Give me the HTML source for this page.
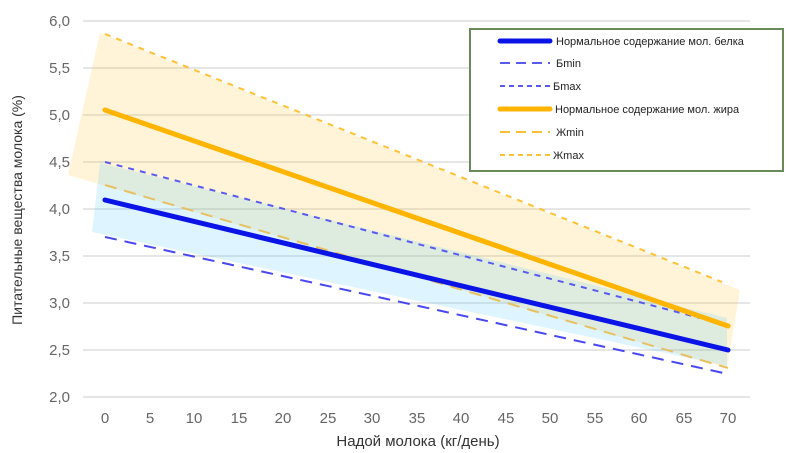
<!DOCTYPE html>
<html><head><meta charset="utf-8"><style>body{margin:0;background:#fff}svg{display:block}</style></head><body>
<svg width="790" height="453" xmlns="http://www.w3.org/2000/svg" font-family="Liberation Sans, sans-serif">
<g stroke="#ddd" stroke-width="1.5">
<line x1="83" y1="21" x2="750" y2="21"/><line x1="83" y1="68" x2="750" y2="68"/><line x1="83" y1="115" x2="750" y2="115"/><line x1="83" y1="162" x2="750" y2="162"/><line x1="83" y1="209" x2="750" y2="209"/><line x1="83" y1="256" x2="750" y2="256"/><line x1="83" y1="303" x2="750" y2="303"/><line x1="83" y1="350" x2="750" y2="350"/><line x1="83" y1="397" x2="750" y2="397"/>
</g>
<g fill="#666" font-size="15" text-anchor="end">
<text x="70" y="26">6,0</text><text x="70" y="73">5,5</text><text x="70" y="120">5,0</text><text x="70" y="167">4,5</text><text x="70" y="214">4,0</text><text x="70" y="261">3,5</text><text x="70" y="308">3,0</text><text x="70" y="355">2,5</text><text x="70" y="402">2,0</text>
</g>
<g fill="#666" font-size="15" text-anchor="middle">
<text x="105" y="423">0</text><text x="150" y="423">5</text><text x="194" y="423">10</text><text x="239" y="423">15</text><text x="283" y="423">20</text><text x="328" y="423">25</text><text x="372" y="423">30</text><text x="417" y="423">35</text><text x="461" y="423">40</text><text x="506" y="423">45</text><text x="550" y="423">50</text><text x="595" y="423">55</text><text x="639" y="423">60</text><text x="684" y="423">65</text><text x="728" y="423">70</text>
</g>
<text x="418" y="446" font-size="15" fill="#333" text-anchor="middle">Надой молока (кг/день)</text>
<text transform="translate(22,210) rotate(-90)" font-size="14" fill="#333" text-anchor="middle">Питательные вещества молока (%)</text>
<polygon points="68,175 100,33 740,290 727,368" fill="rgb(255,200,60)" fill-opacity="0.2"/>
<polygon points="92,232 100,163 727,318 727,366" fill="rgb(90,200,255)" fill-opacity="0.2"/>
<g fill="none">
<line x1="105" y1="34" x2="722" y2="282" stroke="#ffc234" stroke-width="2" stroke-dasharray="6,6"/>
<line x1="105" y1="185" x2="728" y2="368" stroke="#e8c060" stroke-width="2" stroke-dasharray="12,8"/>
<line x1="105" y1="162" x2="700" y2="318" stroke="#5a5af0" stroke-width="2" stroke-dasharray="6,6"/>
<line x1="105" y1="237" x2="728" y2="374" stroke="#4848f0" stroke-width="2" stroke-dasharray="12,8"/>
<line x1="105" y1="110" x2="728" y2="326" stroke="#ffb400" stroke-width="5" stroke-linecap="round"/>
<line x1="105" y1="200" x2="728" y2="350" stroke="#0a14e6" stroke-width="5" stroke-linecap="round"/>
</g>
<rect x="470" y="29" width="313" height="142" fill="#fff" stroke="#6b8a5a" stroke-width="2"/>
<g font-size="11" fill="#222">
<line x1="500" y1="41" x2="550" y2="41" stroke="#0a14e6" stroke-width="5" stroke-linecap="round"/><text x="556" y="45">Нормальное содержание мол. белка</text>
<line x1="500" y1="63" x2="550" y2="63" stroke="#5a5af0" stroke-width="2" stroke-dasharray="10,6"/><text x="556" y="67">Бmin</text>
<line x1="500" y1="86" x2="550" y2="86" stroke="#5a5af0" stroke-width="2" stroke-dasharray="5,4"/><text x="553" y="90">Бmax</text>
<line x1="500" y1="109" x2="550" y2="109" stroke="#ffb400" stroke-width="5" stroke-linecap="round"/><text x="555" y="113">Нормальное содержание мол. жира</text>
<line x1="500" y1="132" x2="550" y2="132" stroke="#ffc234" stroke-width="2" stroke-dasharray="10,6"/><text x="556" y="136">Жmin</text>
<line x1="500" y1="155" x2="550" y2="155" stroke="#ffc234" stroke-width="2" stroke-dasharray="5,4"/><text x="553" y="159">Жmax</text>
</g>
</svg>
</body></html>
